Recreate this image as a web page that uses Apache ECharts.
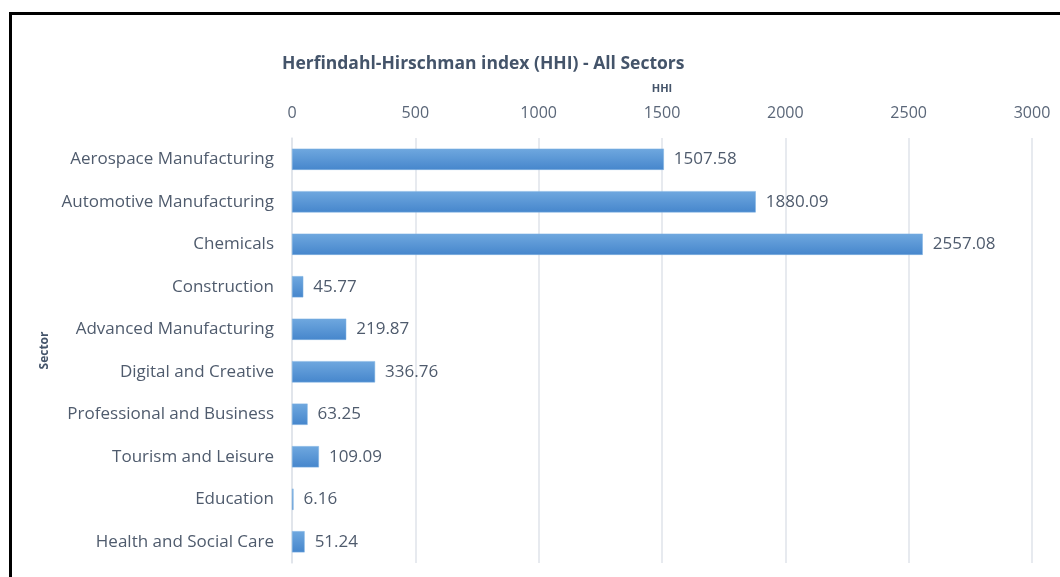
<!DOCTYPE html>
<html>
<head>
<meta charset="utf-8">
<script src="https://cdn.jsdelivr.net/npm/echarts@6/dist/echarts.min.js"></script>
<style>
  html, body { margin: 0; padding: 0; background: #ffffff; }
  #chart { width: 1060px; height: 577px; }
</style>
</head>
<body>
<div id="chart"></div>
<script>
// Sector concentration (HHI) by sector
const sectors = [
  'Aerospace Manufacturing',
  'Automotive Manufacturing',
  'Chemicals',
  'Construction',
  'Advanced Manufacturing',
  'Digital and Creative',
  'Professional and Business',
  'Tourism and Leisure',
  'Education',
  'Health and Social Care'
];
const hhiValues = [1507.58, 1880.09, 2557.08, 45.77, 219.87, 336.76, 63.25, 109.09, 6.16, 51.24];
const xTicks = [0, 500, 1000, 1500, 2000, 2500, 3000];

const FONT = '"Open Sans", Lato, sans-serif';
const TEXT = '#44546a';

const chart = echarts.init(document.getElementById('chart'), null, { renderer: 'canvas' });

chart.setOption({
  backgroundColor: '#ffffff',
  animation: false,
  title: {
    text: 'Herfindahl-Hirschman index (HHI) - All Sectors',
    left: 277,
    top: 50,
    textStyle: { fontFamily: FONT, fontWeight: 'bold', fontSize: 17.5, color: TEXT }
  },
  graphic: [
    // frame lines along the top and left edges
    { type: 'rect', shape: { x: 9, y: 12, width: 1051, height: 3 }, style: { fill: '#000000' } },
    { type: 'rect', shape: { x: 9, y: 12, width: 3, height: 565 }, style: { fill: '#000000' } }
  ],
  grid: { left: 292, right: 28, top: 138, bottom: 14, containLabel: false },
  xAxis: {
    type: 'value',
    position: 'top',
    min: xTicks[0],
    max: xTicks[xTicks.length - 1],
    interval: xTicks[1] - xTicks[0],
    name: 'HHI',
    nameLocation: 'middle',
    nameGap: 44,
    nameTextStyle: { fontFamily: FONT, fontWeight: 'bold', fontSize: 11, color: TEXT },
    axisLine: { show: false },
    axisTick: { show: false },
    axisLabel: {
      margin: 17, fontFamily: FONT, fontSize: 16, color: '#5a6678',
      formatter: v => String(v)
    },
    splitLine: { show: true, lineStyle: { color: '#dfe3ea', width: 1.5 } }
  },
  yAxis: {
    type: 'category',
    data: sectors,
    inverse: true,
    name: 'Sector',
    nameLocation: 'middle',
    nameRotate: 90,
    nameGap: 239,
    nameTextStyle: { fontFamily: FONT, fontWeight: 'bold', fontSize: 12, color: TEXT },
    axisLine: { show: true, lineStyle: { color: '#dfe3ea', width: 1.5 } },
    axisTick: { show: false },
    axisLabel: { margin: 18, fontFamily: FONT, fontSize: 17, color: '#4f5b6d' }
  },
  series: [{
    type: 'bar',
    data: hhiValues,
    barCategoryGap: '50%',
    itemStyle: {
      color: new echarts.graphic.LinearGradient(0, 0, 0, 1, [
        { offset: 0, color: '#6fa8df' },
        { offset: 1, color: '#4686cc' }
      ]),
      borderColor: '#7fb2e3',
      borderWidth: 0.5
    },
    label: {
      show: true,
      position: 'right',
      distance: 10,
      fontFamily: FONT,
      fontSize: 17,
      color: '#4f5b6d',
      formatter: p => p.value.toFixed(2)
    }
  }]
});
</script>
</body>
</html>
